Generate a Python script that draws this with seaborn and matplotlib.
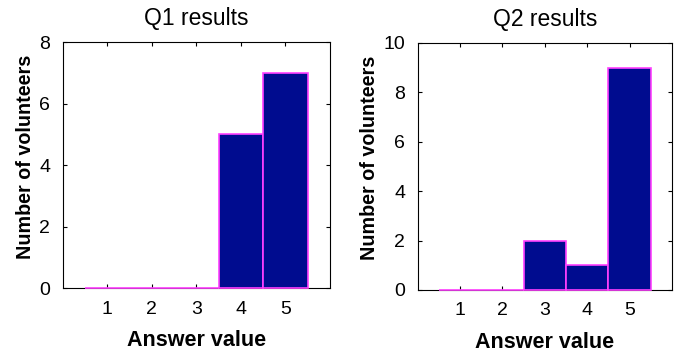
import matplotlib
matplotlib.use("Agg")
import matplotlib.pyplot as plt
import seaborn as sns
import pandas as pd

answers = [1, 2, 3, 4, 5]
q1_counts = [0, 0, 0, 5, 7]
q2_counts = [0, 0, 2, 1, 9]
titles = ["Q1 results", "Q2 results"]
ymaxes = [8, 10]

sns.set_theme(style="ticks")
plt.rcParams['font.family'] = ['Liberation Sans', 'DejaVu Sans']
plt.rcParams['text.color'] = 'black'
plt.rcParams['axes.labelcolor'] = 'black'
plt.rcParams['xtick.color'] = 'black'
plt.rcParams['ytick.color'] = 'black'

fig = plt.figure(figsize=(6.76, 3.54), dpi=100)
ax1 = fig.add_axes([0.093, 0.186, 0.395, 0.695])
ax2 = fig.add_axes([0.618, 0.181, 0.376, 0.698])

for ax, counts, title, ymax in zip([ax1, ax2], [q1_counts, q2_counts], titles, ymaxes):
    df = pd.DataFrame({"answer": answers, "count": counts})
    sns.barplot(data=df, x="answer", y="count", ax=ax, native_scale=True,
                width=1.0, color="#000c8f", saturation=1, edgecolor="#ff40ff",
                linewidth=1.2, errorbar=None, zorder=3)
    for p in ax.patches:
        p.set_zorder(3)
        p.set_clip_on(False)
    ax.set_xlim(0, 6)
    ax.set_ylim(0, ymax)
    ax.set_xticks(answers)
    ax.set_title(title, fontsize=16.5, pad=12, color="black")
    ax.set_xlabel("Answer value", fontsize=15.5, fontweight="bold", labelpad=9)
    ax.set_ylabel("Number of volunteers", fontsize=14.2, fontweight="bold", labelpad=3)
    ax.yaxis.label.set_y(0.535)
    ax.tick_params(direction="in", top=True, right=True, length=3, width=0.8,
                   labelsize=14, pad=9, colors="black")
    for s in ax.spines.values():
        s.set_visible(True)
        s.set_linewidth(0.8)
        s.set_color("black")
        s.set_zorder(2)

fig.savefig("out.png", dpi=100)
